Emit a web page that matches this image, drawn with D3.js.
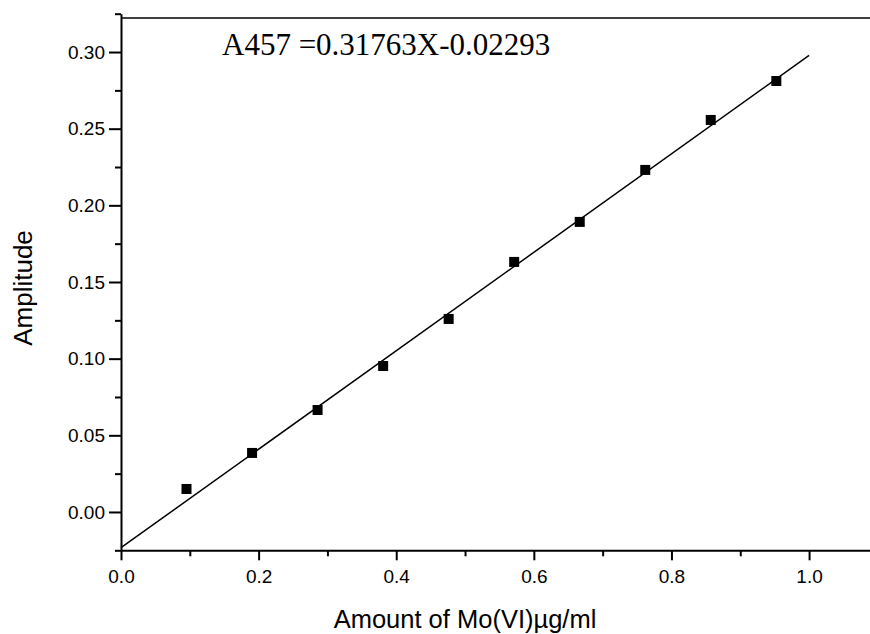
<!DOCTYPE html>
<html>
<head>
<meta charset="utf-8">
<script src="https://cdn.jsdelivr.net/npm/d3@7"></script>
<style>
  body { margin: 0; background: #fff; }
  svg { display: block; }
</style>
</head>
<body>
<svg id="chart" width="870" height="634"></svg>
<script>
// Measured points (concentration vs. amplitude)
const concentration = [0.0952, 0.1905, 0.2857, 0.381, 0.4762, 0.5714, 0.6667, 0.7619, 0.8571, 0.9524];
const amplitude = [0.015, 0.0385, 0.0665, 0.0952, 0.1259, 0.1631, 0.1892, 0.2231, 0.2557, 0.2811];

// Fitted line, end points
const fitX = [0.0, 1.0];
const fitY = [-0.0233, 0.2978];

const xTicks = [0.0, 0.2, 0.4, 0.6, 0.8, 1.0];
const xMinorTicks = [0.1, 0.3, 0.5, 0.7, 0.9];
const yTicks = [0.00, 0.05, 0.10, 0.15, 0.20, 0.25, 0.30];
const yMinorTicks = [-0.025, 0.025, 0.075, 0.125, 0.175, 0.225, 0.275, 0.325];

const equationText = "A457 =0.31763X-0.02293";

const svg = d3.select("#chart");

const x = d3.scaleLinear().domain([0, 1.09]).range([121, 871]);
const y = d3.scaleLinear().domain([-0.025, 0.325]).range([550.3, 13.7]);

// top frame line
svg.append("line")
    .attr("x1", x(0)).attr("x2", 870)
    .attr("y1", 18).attr("y2", 18)
    .attr("stroke", "#000").attr("stroke-width", 1.6);

// fit line
const line = d3.line().x(d => x(d[0])).y(d => y(d[1]));
svg.append("path")
    .datum(d3.zip(fitX, fitY))
    .attr("d", line)
    .attr("fill", "none")
    .attr("stroke", "#000")
    .attr("stroke-width", 1.5);

// points
const size = 10;
svg.selectAll(".pt")
    .data(d3.zip(concentration, amplitude))
    .join("rect")
    .attr("class", "pt")
    .attr("x", d => x(d[0]) - size / 2)
    .attr("y", d => y(d[1]) - size / 2)
    .attr("width", size)
    .attr("height", size)
    .attr("fill", "#000");

// x axis
const xAxis = svg.append("g")
    .attr("transform", `translate(0,${y(-0.025)})`)
    .call(d3.axisBottom(x).tickValues(xTicks).tickFormat(d3.format(".1f")).tickSize(10).tickSizeOuter(0));
svg.append("g")
    .attr("transform", `translate(0,${y(-0.025)})`)
    .call(d3.axisBottom(x).tickValues(xMinorTicks).tickFormat("").tickSize(6).tickSizeOuter(0))
    .select(".domain").remove();

// y axis
const yAxis = svg.append("g")
    .attr("transform", `translate(${x(0)},0)`)
    .call(d3.axisLeft(y).tickValues(yTicks).tickFormat(d3.format(".2f")).tickSize(12).tickSizeOuter(0));
svg.append("g")
    .attr("transform", `translate(${x(0)},0)`)
    .call(d3.axisLeft(y).tickValues(yMinorTicks).tickFormat("").tickSize(6).tickSizeOuter(0))
    .select(".domain").remove();

svg.selectAll(".domain, .tick line")
    .attr("stroke", "#000")
    .attr("stroke-width", 2);

svg.selectAll(".tick text")
    .attr("fill", "#000")
    .style("font-family", "'Liberation Sans', Arial, sans-serif")
    .style("font-size", "19px");
xAxis.selectAll(".tick text").attr("dy", "1.05em");
yAxis.selectAll(".tick text").attr("x", -16);

// axis titles
svg.append("text")
    .attr("x", 465)
    .attr("y", 628)
    .attr("text-anchor", "middle")
    .style("font-family", "'Liberation Sans', Arial, sans-serif")
    .style("font-size", "25.5px")
    .text("Amount of Mo(VI)\u00b5g/ml");

svg.append("text")
    .attr("transform", "translate(32,288) rotate(-90)")
    .attr("text-anchor", "middle")
    .style("font-family", "'Liberation Sans', Arial, sans-serif")
    .style("font-size", "26px")
    .text("Amplitude");

// equation
svg.append("text")
    .attr("x", 222)
    .attr("y", 55)
    .style("font-family", "'Liberation Serif', 'Times New Roman', serif")
    .style("font-size", "31px")
    .text(equationText);
</script>
</body>
</html>
